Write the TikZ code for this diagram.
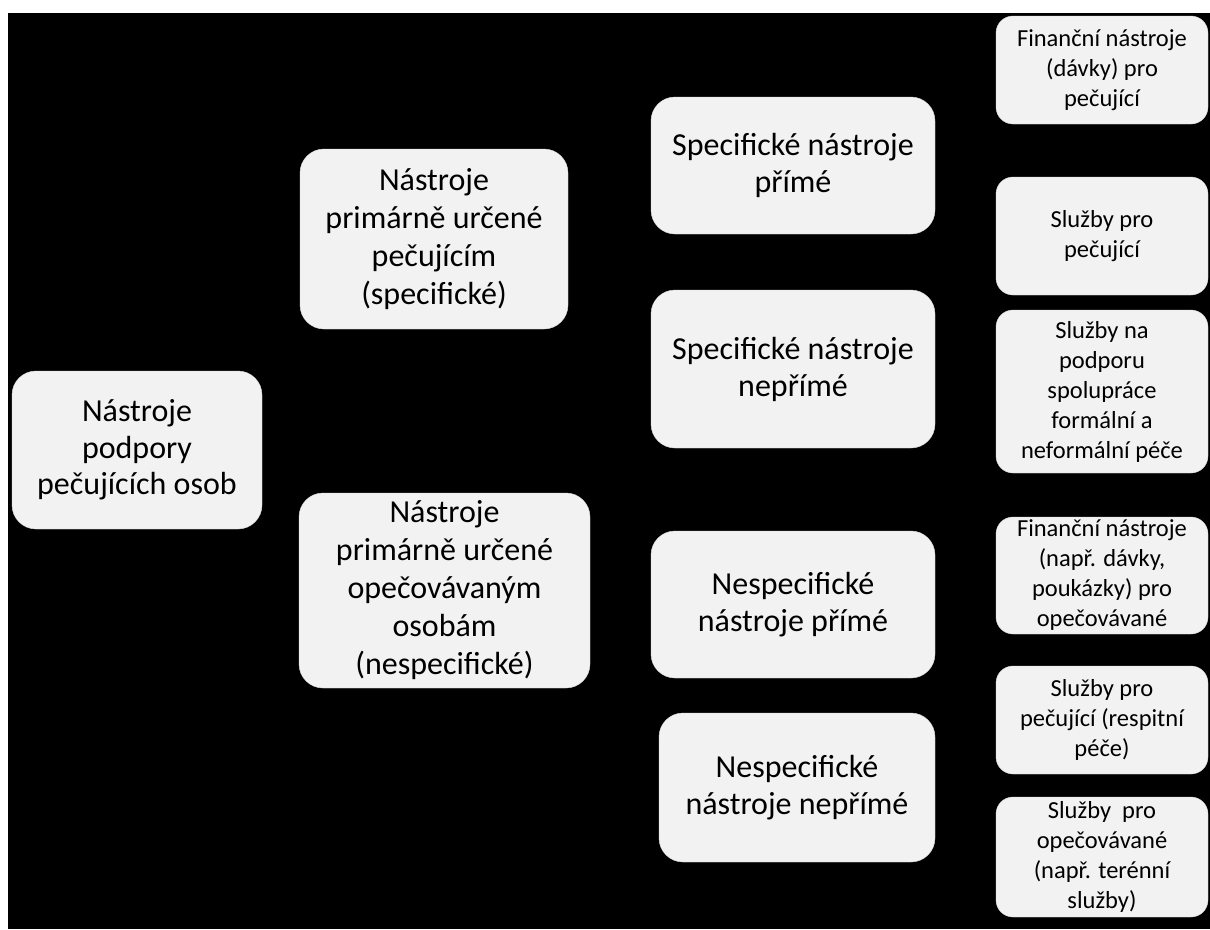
\documentclass[tikz,border=0pt]{standalone}
\usepackage{fontspec}
\setmainfont{Carlito}
\definecolor{boxfill}{HTML}{F2F2F2}
\definecolor{boxedge}{HTML}{DADADA}
\tikzset{
  bigbox/.style={rectangle, rounded corners=24pt, fill=boxfill, draw=boxedge, line width=0.4pt,
    inner sep=0pt, align=center, text=black, font=\fontsize{32}{37}\selectfont},
  smallbox/.style={rectangle, rounded corners=17pt, fill=boxfill, draw=boxedge, line width=0.4pt,
    inner sep=0pt, align=center, text=black, minimum width=212pt, font=\fontsize{24.5}{30}\selectfont},
}
\begin{document}
\begin{tikzpicture}[x=1pt,y=-1pt]
\useasboundingbox (0,0) rectangle (1210,929);
\fill[white] (0,0) rectangle (1210,929);
\fill[black] (8,13) rectangle (1210,929);

\node[bigbox, minimum width=250pt, minimum height=158pt, font=\fontsize{32}{36.5}\selectfont] (root) at (137,450)
  {Nástroje\\podpory\\pečujících osob};

\node[bigbox, minimum width=268pt, minimum height=180pt, font=\fontsize{32}{38}\selectfont] (n1) at (434,239)
  {Nástroje\\primárně určené\\pečujícím\\(specifické)};
\node[bigbox, minimum width=291pt, minimum height=195pt, font=\fontsize{32}{38}\selectfont] (n2) at (444.5,590.5)
  {Nástroje\\primárně určené\\opečovávaným\\osobám\\(nespecifické)};

\node[bigbox, minimum width=284pt, minimum height=137pt] (s1) at (793,165.5)
  {Specifické nástroje\\přímé};
\node[bigbox, minimum width=284pt, minimum height=158pt] (s2) at (793,369)
  {Specifické nástroje\\nepřímé};
\node[bigbox, minimum width=284pt, minimum height=147pt] (ns1) at (793,604.5)
  {Nespecifické\\nástroje přímé};
\node[bigbox, minimum width=276pt, minimum height=149pt] (ns2) at (797,787.5)
  {Nespecifické\\nástroje nepřímé};

\node[smallbox, minimum height=108pt] (r1) at (1102,70)
  {Finanční nástroje\\(dávky) pro\\pečující};
\node[smallbox, minimum height=118pt] (r2) at (1102,236)
  {Služby pro\\pečující};
\node[smallbox, minimum height=163pt] (r3) at (1102,391.5)
  {Služby na\\podporu\\spolupráce\\formální a\\neformální péče};
\node[smallbox, minimum height=117pt] (r4) at (1102,575.5)
  {Finanční nástroje\\(např. dávky,\\poukázky) pro\\opečovávané};
\node[smallbox, minimum height=108pt] (r5) at (1102,720)
  {Služby pro\\pečující (respitní\\péče)};
\node[smallbox, minimum height=120pt] (r6) at (1102,857)
  {Služby~ pro\\opečovávané\\(např. terénní\\služby)};
\end{tikzpicture}
\end{document}
